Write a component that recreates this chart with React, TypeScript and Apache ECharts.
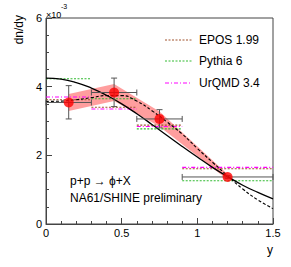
import React, { useEffect, useRef } from "react";
import * as echarts from "echarts";

// ---- data ----
const binLow = [0, 0.3, 0.6, 0.9];
const binHigh = [0.3, 0.6, 0.9, 1.5];
const eposValues = [3.62, 3.4, 2.88, 1.61];
const pythiaValues = [4.23, 3.65, 2.77, 1.26];
const urqmdValues = [3.7, 3.35, 2.84, 1.65];

const pointX = [0.15, 0.45, 0.75, 1.2];
const pointY = [3.54, 3.83, 3.06, 1.37];
const errLow = [3.06, 3.42, 2.8, 1.33];
const errHigh = [4.03, 4.25, 3.33, 1.41];
const bandLow = [3.29, 3.58, 2.84, 1.29];
const bandHigh = [3.79, 4.08, 3.28, 1.45];

const fitX = [0, 0.1, 0.2, 0.3, 0.4, 0.5, 0.6, 0.7, 0.8, 0.9, 1.0, 1.1, 1.2, 1.3, 1.4, 1.5];
const solidFit = [4.25, 4.22, 4.12, 3.96, 3.75, 3.5, 3.21, 2.9, 2.58, 2.26, 1.95, 1.65, 1.38, 1.13, 0.92, 0.73];
const dashedFit = [3.57, 3.58, 3.62, 3.68, 3.74, 3.74, 3.58, 3.3, 2.97, 2.62, 2.2, 1.8, 1.4, 1.02, 0.7, 0.45];

const xTicks = ["0", "0.5", "1", "1.5"];
const yTicks = ["0", "2", "4", "6"];

const FONT = "'Liberation Sans', Arial, Helvetica, sans-serif";

function histSeries(name: string, vals: number[], color: string, dash: number[]) {
  return {
    type: "custom",
    name,
    z: 3,
    data: vals.map((v, i) => [binLow[i], binHigh[i], v]),
    encode: { x: [0, 1], y: 2 },
    renderItem: (_p: any, api: any) => {
      const a = api.coord([api.value(0), api.value(2)]);
      const b = api.coord([api.value(1), api.value(2)]);
      return {
        type: "line",
        shape: { x1: a[0], y1: a[1], x2: b[0], y2: b[1] },
        style: { stroke: color, lineWidth: 1.1, lineDash: dash },
      };
    },
  };
}

export default function App() {
  const ref = useRef<HTMLDivElement>(null);
  useEffect(() => {
    if (!ref.current) return;
    const chart = echarts.init(ref.current, undefined, { renderer: "svg" });
    const axisColor = "#444";
    chart.setOption({
      animation: false,
      textStyle: { fontFamily: FONT },
      grid: {
        left: 46,
        right: 18,
        top: 18,
        bottom: 43,
        show: true,
        borderColor: axisColor,
        borderWidth: 1,
        backgroundColor: "transparent",
      },
      xAxis: {
        type: "value",
        min: 0,
        max: 1.5,
        interval: 0.5,
        axisLine: { show: true, lineStyle: { color: axisColor } },
        axisTick: { show: true, inside: true, length: 6, lineStyle: { color: axisColor } },
        minorTick: { show: true, splitNumber: 5, length: 3, lineStyle: { color: axisColor } },
        splitLine: { show: false },
        axisLabel: {
          color: "#000",
          fontSize: 11,
          fontFamily: FONT,
          margin: 3,
          formatter: (v: number) => xTicks[Math.round(v / 0.5)] ?? "",
        },
      },
      yAxis: {
        type: "value",
        min: 0,
        max: 6,
        interval: 2,
        axisLine: { show: true, lineStyle: { color: axisColor } },
        axisTick: { show: true, inside: true, length: 6, lineStyle: { color: axisColor } },
        minorTick: { show: true, splitNumber: 4, length: 3, lineStyle: { color: axisColor } },
        splitLine: { show: false },
        axisLabel: {
          color: "#000",
          fontSize: 11,
          fontFamily: FONT,
          margin: 4,
          formatter: (v: number) => yTicks[Math.round(v / 2)] ?? "",
        },
      },
      graphic: [
        // y-axis title
        {
          type: "text",
          x: 19,
          y: 15,
          rotation: Math.PI / 2,
          style: {
            text: "dn/dy",
            fontSize: 12,
            fontFamily: FONT,
            fill: "#000",
            align: "right",
            verticalAlign: "middle",
          },
        },
        {
          type: "text",
          x: 46,
          y: 19,
          style: { text: "×10", fontSize: 9, fontFamily: FONT, fill: "#000", verticalAlign: "bottom" },
        },
        {
          type: "text",
          x: 61,
          y: 10,
          style: { text: "-3", fontSize: 7, fontFamily: FONT, fill: "#000", verticalAlign: "bottom" },
        },
        // x-axis title
        {
          type: "text",
          x: 273,
          y: 250,
          style: { text: "y", fontSize: 12, fontFamily: FONT, fill: "#000", align: "right", verticalAlign: "middle" },
        },
        // legend
        { type: "line", shape: { x1: 165, y1: 40, x2: 192, y2: 40 }, style: { stroke: "#a0522d", lineWidth: 1, lineDash: [2, 1.5] } },
        { type: "text", x: 199, y: 40, style: { text: "EPOS 1.99", fontSize: 12, fontFamily: FONT, fill: "#000", verticalAlign: "middle" } },
        { type: "line", shape: { x1: 165, y1: 61, x2: 192, y2: 61 }, style: { stroke: "#33bb33", lineWidth: 1, lineDash: [2, 1.5] } },
        { type: "text", x: 199, y: 61, style: { text: "Pythia 6", fontSize: 12, fontFamily: FONT, fill: "#000", verticalAlign: "middle" } },
        { type: "line", shape: { x1: 165, y1: 83, x2: 192, y2: 83 }, style: { stroke: "#ff00ff", lineWidth: 1, lineDash: [4, 2, 1, 2] } },
        { type: "text", x: 199, y: 83, style: { text: "UrQMD 3.4", fontSize: 12, fontFamily: FONT, fill: "#000", verticalAlign: "middle" } },
        // annotations
        { type: "text", x: 70, y: 181, style: { text: "p+p → ϕ+X", fontSize: 12, fontFamily: FONT, fill: "#000", verticalAlign: "middle" } },
        { type: "text", x: 70, y: 198, style: { text: "NA61/SHINE preliminary", fontSize: 12, fontFamily: FONT, fill: "#000", verticalAlign: "middle" } },
      ],
      series: [
        {
          type: "custom",
          name: "band",
          z: 1,
          data: [[0]],
          renderItem: (_p: any, api: any) => {
            const pts: number[][] = [];
            for (let i = 0; i < pointX.length; i++) pts.push(api.coord([pointX[i], bandHigh[i]]));
            for (let i = pointX.length - 1; i >= 0; i--) pts.push(api.coord([pointX[i], bandLow[i]]));
            return {
              type: "polygon",
              shape: { points: pts },
              style: { fill: "rgba(255,40,40,0.45)", stroke: "none" },
            };
          },
        },
        histSeries("EPOS 1.99", eposValues, "#a0522d", [2, 1.5]),
        histSeries("Pythia 6", pythiaValues, "#33bb33", [2, 1.5]),
        histSeries("UrQMD 3.4", urqmdValues, "#ff00ff", [4, 2, 1, 2]),
        {
          type: "line",
          name: "fit1",
          z: 4,
          smooth: true,
          showSymbol: false,
          data: fitX.map((x, i) => [x, solidFit[i]]),
          lineStyle: { color: "#000", width: 1.3 },
        },
        {
          type: "line",
          name: "fit2",
          z: 4,
          smooth: true,
          showSymbol: false,
          data: fitX.map((x, i) => [x, dashedFit[i]]),
          lineStyle: { color: "#000", width: 1.1, type: [3, 2] },
        },
        {
          type: "custom",
          name: "errors",
          z: 5,
          data: pointX.map((x, i) => [x, pointY[i], binLow[i], binHigh[i], errLow[i], errHigh[i]]),
          encode: { x: [0, 2, 3], y: [1, 4, 5] },
          renderItem: (_p: any, api: any) => {
            const c = api.coord([api.value(0), api.value(1)]);
            const l = api.coord([api.value(2), api.value(1)]);
            const r = api.coord([api.value(3), api.value(1)]);
            const lo = api.coord([api.value(0), api.value(4)]);
            const hi = api.coord([api.value(0), api.value(5)]);
            const st = { stroke: "#555", lineWidth: 1 };
            const cap = 3;
            return {
              type: "group",
              children: [
                { type: "line", shape: { x1: l[0], y1: c[1], x2: r[0], y2: c[1] }, style: st },
                { type: "line", shape: { x1: l[0], y1: c[1] - cap, x2: l[0], y2: c[1] + cap }, style: st },
                { type: "line", shape: { x1: r[0], y1: c[1] - cap, x2: r[0], y2: c[1] + cap }, style: st },
                { type: "line", shape: { x1: c[0], y1: lo[1], x2: c[0], y2: hi[1] }, style: st },
                { type: "line", shape: { x1: c[0] - cap, y1: lo[1], x2: c[0] + cap, y2: lo[1] }, style: st },
                { type: "line", shape: { x1: c[0] - cap, y1: hi[1], x2: c[0] + cap, y2: hi[1] }, style: st },
              ],
            };
          },
        },
        {
          type: "scatter",
          name: "NA61/SHINE",
          z: 6,
          symbol: "circle",
          symbolSize: 10,
          itemStyle: { color: "#ff0000" },
          data: pointX.map((x, i) => [x, pointY[i]]),
        },
      ],
    });
    return () => chart.dispose();
  }, []);
  return (
    <div
      ref={ref}
      style={{ position: "fixed", left: 0, top: 0, width: 291, height: 267, background: "#fff" }}
    />
  );
}
